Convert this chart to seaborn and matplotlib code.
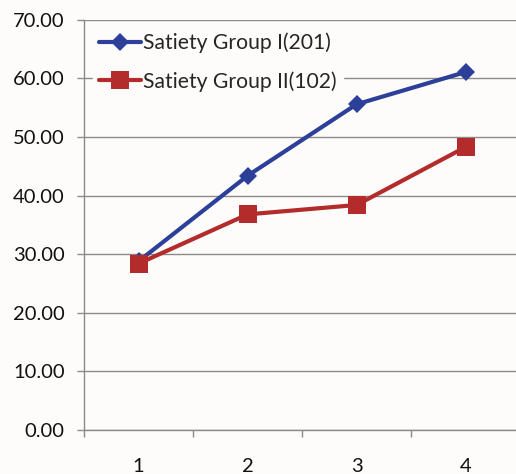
import matplotlib
matplotlib.use("Agg")
import matplotlib.pyplot as plt
import seaborn as sns
import pandas as pd
from matplotlib.ticker import FormatStrFormatter

# Measurements per time point
time_points = [1, 2, 3, 4]
group_one = [28.8, 43.4, 55.6, 61.1]
group_two = [28.4, 36.8, 38.4, 48.3]
series_names = ["Satiety Group I(201)", "Satiety Group II(102)"]

df = pd.DataFrame({
    "pos": list(range(len(time_points))) * 2,
    "value": group_one + group_two,
    "series": [series_names[0]] * 4 + [series_names[1]] * 4,
})

sns.set_theme(style="white")
plt.rcParams["font.family"] = ["Lato", "DejaVu Sans"]

bg = "#fdfcfa"
fig = plt.figure(figsize=(5.16, 4.74), dpi=100, facecolor=bg)
ax = fig.add_axes([0.163, 0.093, 0.845, 0.865])
ax.set_facecolor(bg)

palette = {series_names[0]: "#2c3f99", series_names[1]: "#b32b2b"}
markers = {series_names[0]: "D", series_names[1]: "s"}

sns.lineplot(data=df, x="pos", y="value", hue="series", style="series",
             palette=palette, markers=markers, dashes=False, linewidth=3.0,
             markersize=10, markeredgewidth=0, ax=ax, sort=False)

# tune marker sizes per series
for line in ax.lines:
    if line.get_marker() == "D":
        line.set_markersize(9)
    elif line.get_marker() == "s":
        line.set_markersize(12.5)

ax.set_ylim(0, 70)
ax.set_yticks(range(0, 71, 10))
ax.yaxis.set_major_formatter(FormatStrFormatter("%.2f"))
ax.set_xlim(-0.5, 3.5)
ax.set_xticks(range(len(time_points)))
ax.set_xticklabels([str(t) for t in time_points])
ax.set_xlabel("")
ax.set_ylabel("")

ax.grid(axis="y", color="#8a8a8a", linewidth=1.0)
ax.set_axisbelow(True)
for s in ["top", "right"]:
    ax.spines[s].set_visible(False)
for s in ["left", "bottom"]:
    ax.spines[s].set_color("#8a8a8a")
    ax.spines[s].set_linewidth(1.0)

ax.tick_params(axis="y", which="major", length=5, width=1, color="#8a8a8a",
               left=True, labelsize=14.5, pad=9, labelcolor="#111111")
ax.tick_params(axis="x", which="major", length=0, labelsize=14.5, pad=20,
               labelcolor="#111111")
# category boundary ticks along the x axis
ax.set_xticks([-0.5, 0.5, 1.5, 2.5, 3.5], minor=True)
ax.tick_params(axis="x", which="minor", length=5, width=1, color="#8a8a8a",
               bottom=True, direction="out")

leg = ax.legend(loc="upper left", bbox_to_anchor=(0.01, 0.995), frameon=True,
                fontsize=15.2, handlelength=2.0, handletextpad=0.1,
                labelspacing=0.85, borderpad=0.3, borderaxespad=0.2)
leg.get_frame().set_facecolor(bg)
leg.get_frame().set_edgecolor(bg)
leg.get_frame().set_alpha(1)
for h in leg.legend_handles:
    h.set_linewidth(3.0)

fig.savefig("out.png", dpi=100, facecolor=bg)
